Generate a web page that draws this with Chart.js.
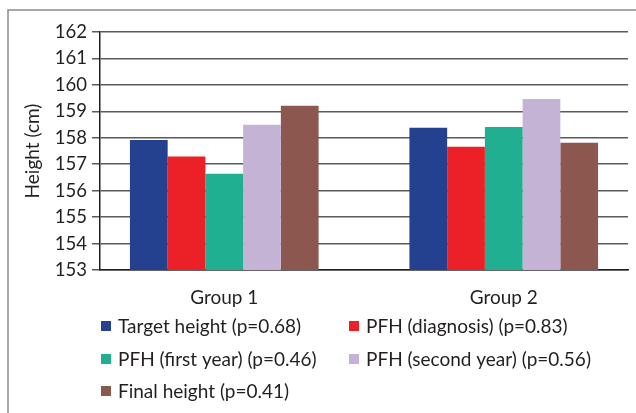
<!DOCTYPE html>
<html>
<head>
<meta charset="utf-8">
<script src="https://cdn.jsdelivr.net/npm/chart.js@4"></script>
<style>
  html, body { margin: 0; padding: 0; background: #fff; }
  #wrap { position: relative; width: 636px; height: 413px; }
</style>
</head>
<body>
<div id="wrap"><canvas id="chart" width="636" height="413"></canvas></div>
<script>
// Groups on the x axis
const categories = ['Group 1', 'Group 2'];

// Series names (with p values) and colours
const seriesLabels = [
  'Target height (p=0.68)',
  'PFH (diagnosis) (p=0.83)',
  'PFH (first year) (p=0.46)',
  'PFH (second year) (p=0.56)',
  'Final height (p=0.41)'
];
const seriesColors = ['#24418f', '#ec2027', '#20af91', '#c5b3d6', '#8b574f'];

// Heights in cm, one value per group
const targetHeight   = [157.92, 158.38];
const pfhDiagnosis   = [157.29, 157.66];
const pfhFirstYear   = [156.64, 158.41];
const pfhSecondYear  = [158.49, 159.47];
const finalHeight    = [159.21, 157.81];

// Y axis range and step
const yMin = 153;
const yMax = 162;
const yStep = 1;

const seriesValues = [targetHeight, pfhDiagnosis, pfhFirstYear, pfhSecondYear, finalHeight];

const FONT = 'Lato, "Open Sans", sans-serif';
const TEXT = '#231f20';

const datasets = seriesLabels.map((label, s) => ({
  label,
  data: seriesValues[s].map((v, i) => ({ x: i, y: v })),
  backgroundColor: seriesColors[s],
  borderWidth: 0,
  categoryPercentage: 0.675,
  barPercentage: 1.0
}));

// Outer frame around the figure
const framePlugin = {
  id: 'frame',
  beforeDraw(chart) {
    const ctx = chart.ctx;
    ctx.save();
    ctx.strokeStyle = '#8c8c8c';
    ctx.lineWidth = 1.5;
    ctx.beginPath();
    ctx.moveTo(8, chart.height);
    ctx.lineTo(8, 10);
    ctx.lineTo(chart.width, 10);
    ctx.stroke();
    ctx.restore();
  }
};

// Two-column legend below the axis labels
const legendPlugin = {
  id: 'colLegend',
  afterDraw(chart) {
    const ctx = chart.ctx;
    const area = chart.chartArea;
    const colX = [area.left + 1, area.left + 249];
    const rowY = [area.bottom + 56, area.bottom + 89, area.bottom + 121];
    ctx.save();
    ctx.font = '19px ' + FONT;
    ctx.textBaseline = 'middle';
    ctx.textAlign = 'left';
    chart.data.datasets.forEach((ds, i) => {
      const x = colX[i % 2];
      const y = rowY[Math.floor(i / 2)];
      ctx.fillStyle = ds.backgroundColor;
      ctx.fillRect(x, y - 5, 10, 10);
      ctx.fillStyle = TEXT;
      ctx.fillText(ds.label, x + 17, y + 1);
    });
    ctx.restore();
  }
};

new Chart(document.getElementById('chart'), {
  type: 'bar',
  data: { datasets },
  options: {
    responsive: false,
    animation: false,
    layout: { padding: { top: 32, right: 8, left: 0, bottom: 0 } },
    plugins: {
      legend: { display: false },
      tooltip: { enabled: false }
    },
    scales: {
      x: {
        type: 'linear',
        offset: false,
        min: -0.4446,
        max: 1.4446,
        afterBuildTicks(scale) {
          scale.ticks = categories.map((_, i) => ({ value: i }));
        },
        afterFit(scale) { scale.height = 143; },
        grid: { display: false, drawTicks: false, offset: false },
        border: { display: true, color: TEXT, width: 1.5 },
        ticks: {
          autoSkip: false,
          padding: 16,
          maxRotation: 0,
          color: TEXT,
          font: { family: FONT, size: 19 },
          callback: (v) => categories[v]
        }
      },
      y: {
        min: yMin,
        max: yMax,
        afterFit(scale) { scale.width = 100; },
        grid: {
          color: '#5a5a5a',
          lineWidth: 1.5,
          tickLength: 8,
          drawTicks: true
        },
        border: { display: true, color: TEXT, width: 1.5 },
        ticks: {
          stepSize: yStep,
          padding: 5,
          color: TEXT,
          font: { family: FONT, size: 18.5 }
        },
        title: {
          display: true,
          text: 'Height (cm)',
          color: TEXT,
          font: { family: FONT, size: 19 },
          padding: { top: 21, bottom: 0 }
        }
      }
    }
  },
  plugins: [framePlugin, legendPlugin]
});
</script>
</body>
</html>
